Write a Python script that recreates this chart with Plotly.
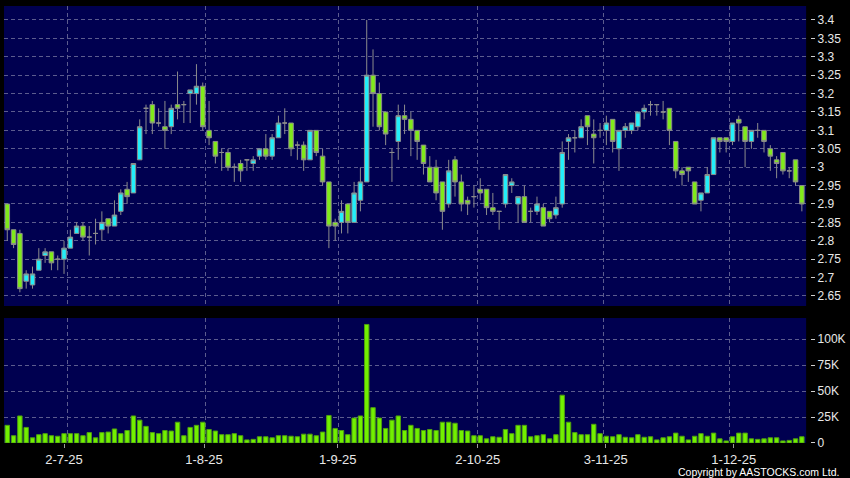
import plotly.graph_objects as go

# ---- data ----
open_ = [2.90, 2.83, 2.82, 2.69, 2.68, 2.72, 2.76, 2.77, 2.75, 2.75,
         2.78, 2.82, 2.84, 2.81, 2.82, 2.83, 2.86, 2.84, 2.88, 2.94,
         2.93, 3.02, 3.16, 3.17, 3.12, 3.11, 3.11, 3.17, 3.17, 3.20,
         3.20, 3.22, 3.10, 3.07, 3.04, 3.04, 3.00, 3.01, 3.02, 3.01,
         3.03, 3.05, 3.03, 3.08, 3.12, 3.12, 3.06, 3.06, 3.02, 3.10,
         3.03, 2.96, 2.85, 2.85, 2.90, 2.85, 2.91, 2.96, 3.25, 3.20,
         3.15, 3.04, 3.07, 3.14, 3.13, 3.10, 3.06, 3.00, 3.00, 2.96,
         2.90, 3.02, 2.96, 2.91, 2.92, 2.94, 2.94, 2.89, 2.88, 2.90,
         2.95, 2.90, 2.92, 2.88, 2.88, 2.89, 2.88, 2.87, 2.90, 3.07,
         3.08, 3.08, 3.14, 3.09, 3.10, 3.10, 3.13, 3.05, 3.10, 3.10,
         3.11, 3.15, 3.17, 3.17, 3.15, 3.16, 3.07, 2.99, 3.00, 2.96,
         2.91, 2.93, 2.98, 3.08, 3.08, 3.07, 3.13, 3.11, 3.07, 3.10,
         3.10, 3.05, 3.02, 3.04, 2.99, 3.02, 2.95]
high = [2.90, 2.83, 2.83, 2.72, 2.73, 2.78, 2.78, 2.77, 2.76, 2.80,
        2.83, 2.85, 2.85, 2.84, 2.86, 2.88, 2.86, 2.91, 2.94, 2.96,
        3.01, 3.13, 3.17, 3.18, 3.16, 3.18, 3.17, 3.26, 3.18, 3.21,
        3.28, 3.23, 3.18, 3.07, 3.05, 3.05, 3.01, 3.02, 3.02, 3.03,
        3.05, 3.09, 3.09, 3.14, 3.16, 3.12, 3.07, 3.07, 3.10, 3.10,
        3.05, 2.96, 2.86, 2.91, 2.90, 2.96, 3.00, 3.40, 3.32, 3.23,
        3.15, 3.05, 3.17, 3.17, 3.15, 3.10, 3.06, 3.03, 3.02, 2.96,
        3.02, 3.03, 2.98, 2.92, 2.95, 2.97, 2.94, 2.93, 2.88, 2.98,
        2.97, 2.92, 2.95, 2.89, 2.92, 2.90, 2.88, 2.92, 3.07, 3.09,
        3.10, 3.13, 3.14, 3.13, 3.12, 3.14, 3.13, 3.10, 3.12, 3.12,
        3.15, 3.17, 3.18, 3.17, 3.18, 3.16, 3.07, 3.00, 3.00, 2.96,
        2.93, 3.00, 3.08, 3.08, 3.08, 3.12, 3.14, 3.11, 3.10, 3.12,
        3.10, 3.06, 3.03, 3.04, 3.00, 3.02, 2.95]
low = [2.80, 2.78, 2.66, 2.67, 2.67, 2.72, 2.74, 2.72, 2.72, 2.71,
       2.78, 2.82, 2.80, 2.76, 2.79, 2.80, 2.82, 2.84, 2.87, 2.90,
       2.93, 3.02, 3.09, 3.09, 3.11, 3.05, 3.09, 3.13, 3.12, 3.12,
       3.17, 3.10, 3.06, 3.01, 2.99, 2.99, 2.96, 2.96, 2.99, 2.99,
       3.02, 3.02, 3.02, 3.08, 3.09, 3.03, 3.02, 2.99, 3.02, 3.03,
       2.95, 2.78, 2.80, 2.82, 2.82, 2.85, 2.88, 2.96, 3.11, 3.10,
       3.06, 2.96, 3.02, 3.09, 3.03, 3.02, 2.98, 2.96, 2.91, 2.83,
       2.89, 2.92, 2.88, 2.87, 2.89, 2.91, 2.87, 2.87, 2.83, 2.89,
       2.93, 2.85, 2.85, 2.85, 2.87, 2.84, 2.85, 2.86, 2.89, 3.02,
       3.04, 3.08, 3.06, 3.01, 3.08, 3.06, 3.04, 2.99, 3.08, 3.09,
       3.10, 3.13, 3.14, 3.14, 3.13, 3.06, 2.97, 2.95, 2.96, 2.90,
       2.88, 2.93, 2.98, 3.04, 3.04, 3.06, 3.07, 3.00, 3.05, 3.08,
       3.04, 2.99, 2.97, 2.98, 2.97, 2.95, 2.88]
close = [2.83, 2.79, 2.67, 2.71, 2.71, 2.75, 2.77, 2.74, 2.75, 2.78,
         2.81, 2.84, 2.81, 2.81, 2.82, 2.85, 2.84, 2.87, 2.93, 2.92,
         3.01, 3.11, 3.16, 3.12, 3.12, 3.10, 3.16, 3.16, 3.17, 3.21,
         3.22, 3.11, 3.08, 3.03, 3.04, 3.00, 3.00, 2.99, 3.02, 3.02,
         3.05, 3.03, 3.08, 3.12, 3.12, 3.05, 3.06, 3.02, 3.10, 3.04,
         2.96, 2.84, 2.84, 2.88, 2.85, 2.93, 2.96, 3.25, 3.20, 3.11,
         3.09, 3.04, 3.14, 3.13, 3.10, 3.07, 3.01, 2.96, 2.93, 2.88,
         2.99, 2.96, 2.90, 2.90, 2.92, 2.93, 2.89, 2.88, 2.88, 2.98,
         2.96, 2.92, 2.85, 2.88, 2.90, 2.84, 2.86, 2.89, 3.04, 3.08,
         3.08, 3.11, 3.11, 3.08, 3.10, 3.12, 3.07, 3.10, 3.11, 3.12,
         3.15, 3.16, 3.17, 3.17, 3.15, 3.10, 2.99, 2.98, 2.99, 2.90,
         2.93, 2.98, 3.08, 3.07, 3.07, 3.12, 3.12, 3.07, 3.10, 3.10,
         3.07, 3.03, 3.01, 2.99, 2.99, 2.96, 2.90]
volume_k = [17, 7, 26, 15, 5, 8, 9, 7, 6.5, 9,
            9, 9, 7, 10, 5, 10, 10.5, 13.5, 9, 12,
            26, 22, 16, 10, 9, 12, 11.5, 20, 7, 15,
            17, 20, 13, 11.5, 8, 8, 9, 7, 3, 3.5,
            6, 6, 5, 7, 7, 6.5, 6, 8.5, 8.5, 7,
            10.5, 26.5, 14, 12, 8, 24, 26, 114, 34, 24,
            14, 22, 26, 12, 17, 14, 12, 13, 12, 20,
            20, 19, 12, 11.5, 7, 7, 4, 6, 5.5, 13,
            9, 17, 17, 6, 7, 8, 4, 8, 46, 20,
            10, 8, 8, 18, 9, 6.5, 6, 8, 5.5, 5,
            8, 5.5, 6, 3, 5, 6, 9.5, 6.5, 3, 6.5,
            9, 6.5, 9.5, 4, 2, 6, 9.5, 9.5, 4, 3.5,
            4, 5, 5, 2, 2.5, 4, 6]
volume = [v * 1000 for v in volume_k]

date_labels = ["2-7-25", "1-8-25", "1-9-25", "2-10-25", "3-11-25", "1-12-25"]
month_start_idx = [9.5, 31.5, 52.5, 74.5, 94.5, 114.5]      # grid lines
date_label_idx = [9.0, 31.2, 52.4, 74.6, 94.9, 115.2]        # label positions

price_ticks = [2.65, 2.7, 2.75, 2.8, 2.85, 2.9, 2.95, 3.0, 3.05, 3.1,
               3.15, 3.2, 3.25, 3.3, 3.35, 3.4]
price_tick_text = ["2.65", "2.7", "2.75", "2.8", "2.85", "2.9", "2.95", "3",
                   "3.05", "3.1", "3.15", "3.2", "3.25", "3.3", "3.35", "3.4"]
vol_ticks = [0, 25000, 50000, 75000, 100000]
vol_tick_text = ["0", "25K", "50K", "75K", "100K"]

x = list(range(len(close)))

# ---- style ----
BG = "#000000"
PLOT_BG = "#000050"
GRID = "#5c5c8e"
GRID_DASH = "4px,3px"
TXT = "#e8e8e8"
FONT = "Liberation Sans, Arial, sans-serif"
XDOM = [0, 0.9572]
XR = [-0.52, 126.68]

fig = go.Figure()
fig.add_trace(go.Candlestick(
    x=x, open=open_, high=high, low=low, close=close,
    increasing=dict(line=dict(color="#8c8c8c", width=1), fillcolor="#22EEFA"),
    decreasing=dict(line=dict(color="#8c8c8c", width=1), fillcolor="#80EA1A"),
    whiskerwidth=0, xaxis="x", yaxis="y", showlegend=False, hoverinfo="skip"))
fig.add_trace(go.Bar(
    x=x, y=volume, xaxis="x2", yaxis="y2", showlegend=False,
    marker=dict(color="#72F000", line=dict(color="#4E9E10", width=1)),
    hoverinfo="skip"))

fig.update_layout(
    width=850, height=478,
    paper_bgcolor=BG, plot_bgcolor=PLOT_BG,
    margin=dict(l=4, r=4, t=6, b=35),
    showlegend=False,
    boxgap=0.15, boxgroupgap=0.15, bargap=0.3,
    font=dict(family=FONT, color=TXT, size=12),
    xaxis=dict(domain=XDOM, range=XR, anchor="y",
               tickvals=month_start_idx, showticklabels=False, ticks="",
               showgrid=True, gridcolor=GRID, griddash=GRID_DASH, gridwidth=1,
               zeroline=False, showline=False,
               rangeslider=dict(visible=False)),
    xaxis2=dict(domain=XDOM, range=XR, anchor="y2", matches="x",
                tickvals=date_label_idx, ticktext=date_labels,
                ticks="outside", ticklen=4, tickcolor="#9a9a9a", tickwidth=1,
                showgrid=False, zeroline=False, showline=False,
                tickfont=dict(size=13, color=TXT, family=FONT),
                minor=dict(tickvals=month_start_idx, showgrid=True,
                           gridcolor=GRID, griddash=GRID_DASH, gridwidth=1,
                           ticks="")),
    yaxis=dict(domain=[0.3135, 1], range=[2.6228, 3.438],
               anchor="free", position=0.962, side="right",
               tickvals=price_ticks, ticktext=price_tick_text,
               ticks="outside", ticklen=4, tickcolor="#cfcfcf", tickwidth=1,
               showgrid=True, gridcolor=GRID, griddash=GRID_DASH, gridwidth=1,
               zeroline=False, showline=False,
               tickfont=dict(size=12, color=TXT, family=FONT)),
    yaxis2=dict(domain=[0, 0.286], range=[0, 120200],
                anchor="free", position=0.962, side="right",
                tickvals=vol_ticks, ticktext=vol_tick_text,
                ticks="outside", ticklen=4, tickcolor="#cfcfcf", tickwidth=1,
                showgrid=True, gridcolor=GRID, griddash=GRID_DASH, gridwidth=1,
                zeroline=False, showline=False,
                tickfont=dict(size=12, color=TXT, family=FONT)),
    annotations=[dict(text="Copyright by AASTOCKS.com Ltd.", xref="paper", yref="paper",
                      x=0.9985, y=-0.0675, xanchor="right", yanchor="middle",
                      showarrow=False, font=dict(size=10.5, color="#ffffff", family=FONT))],
)

fig.write_html("out.html",
               config={"displayModeBar": False},
               post_script="document.body.style.margin='0';"
                           "document.body.style.background='#000';")
